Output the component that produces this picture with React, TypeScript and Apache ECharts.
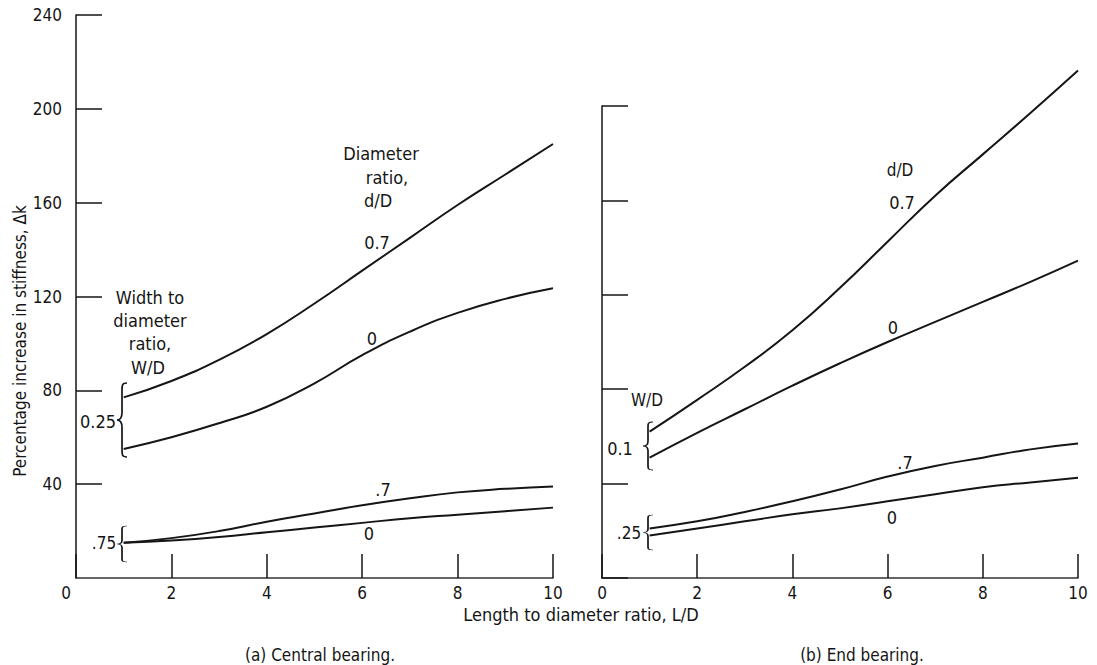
import React, { useEffect, useRef } from "react";
import * as echarts from "echarts";

// ---- data ----
const LD = [1, 2, 3, 4, 5, 6, 7, 8, 9, 10];

// (a) Central bearing
const centralWD025_d07 = [77, 84, 93, 104, 117, 131, 145, 159, 172, 185];
const centralWD025_d0 = [55, 60, 66, 73, 83, 95, 105, 113, 119, 123.5];
const centralWD075_d07 = [15, 17, 20, 24, 27.5, 31, 34, 36.5, 38, 39];
const centralWD075_d0 = [15, 16, 17.5, 19.5, 21.5, 23.5, 25.5, 27, 28.5, 30];

// (b) End bearing
const endWD01_d07 = [62, 75.5, 89.5, 105, 123, 142.5, 162, 179.5, 197, 215];
const endWD01_d0 = [51, 61.5, 71.5, 81.5, 91, 100, 108.5, 117, 125.5, 134.5];
const endWD025_d07 = [21, 24, 28, 32.5, 37.5, 43, 47.5, 51, 54.5, 57];
const endWD025_d0 = [18, 21, 24, 27, 29.5, 32.5, 35.5, 38.5, 40.5, 42.5];

const FONT = "'Liberation Sans Narrow', 'DejaVu Sans Condensed', 'Roboto Condensed', 'Liberation Sans', sans-serif";
const INK = "#151515";

const BRACE = "M10,0 C5,0 5,3 5,10 L5,40 C5,46 4,50 0,50 C4,50 5,54 5,60 L5,90 C5,97 5,100 10,100";
echarts.graphic.registerShape("brace", echarts.graphic.extendPath(BRACE, {}) as any);

function pairs(ys: number[]) {
  return LD.map((x, i) => [x, ys[i]]);
}

function txt(x: number, y: number, s: string, size = 17, align = "center") {
  return {
    type: "text",
    x,
    y,
    style: { text: s, fill: INK, font: `${size}px ${FONT}`, textAlign: align, textVerticalAlign: "middle" },
  };
}

function brace(x: number, y1: number, y2: number) {
  return {
    type: "brace",
    x,
    y: y1,
    scaleX: 1,
    scaleY: (y2 - y1) / 100,
    style: { stroke: INK, fill: "none", lineWidth: 1.7, strokeNoScale: true },
  } as any;
}

export default function App() {
  const ref = useRef<HTMLDivElement>(null);
  useEffect(() => {
    if (!ref.current) return;
    const chart = echarts.init(ref.current, null, { renderer: "svg" });
    const axisLine = { show: true, lineStyle: { color: INK, width: 1.5 } };
    const tick = (len: number) => ({ show: true, inside: true, length: len, lineStyle: { color: INK, width: 1.5 } });
    const label = { color: INK, fontFamily: FONT, fontSize: 17 };
    const line = (name: string, xi: number, ys: number[]) => ({
      name,
      type: "line",
      xAxisIndex: xi,
      yAxisIndex: xi,
      data: pairs(ys),
      smooth: 0.5,
      clip: false,
      showSymbol: false,
      lineStyle: { color: INK, width: 2 },
      silent: true,
    });
    chart.setOption({
      animation: false,
      backgroundColor: "#ffffff",
      grid: [
        { left: 76, top: 15, width: 477, height: 563 },
        { left: 602, top: 106, width: 476, height: 472 },
      ],
      xAxis: [0, 1].map((g) => ({
        type: "value",
        gridIndex: g,
        min: 0,
        max: 10,
        interval: 2,
        axisLine: { show: true, lineStyle: { color: "#333", width: 1.5 } },
        axisTick: tick(24),
        axisLabel: {
          ...label,
          margin: 6,
          formatter: (v: number) => (g === 0 && v === 0 ? "{z|0}" : String(v)),
          rich: { z: { color: INK, fontFamily: FONT, fontSize: 17, padding: [0, 20, 0, 0] } },
        },
        splitLine: { show: false },
      })),
      yAxis: [
        {
          type: "value",
          gridIndex: 0,
          min: 0,
          max: 240,
          interval: 40,
          axisLine,
          axisTick: tick(26),
          axisLabel: { ...label, margin: 14, showMinLabel: false },
          splitLine: { show: false },
        },
        {
          type: "value",
          gridIndex: 1,
          min: 0,
          max: 200,
          interval: 40,
          axisLine,
          axisTick: tick(26),
          axisLabel: { show: false },
          splitLine: { show: false },
        },
      ],
      series: [
        line("a 0.25 0.7", 0, centralWD025_d07),
        line("a 0.25 0", 0, centralWD025_d0),
        line("a 0.75 0.7", 0, centralWD075_d07),
        line("a 0.75 0", 0, centralWD075_d0),
        line("b 0.1 0.7", 1, endWD01_d07),
        line("b 0.1 0", 1, endWD01_d0),
        line("b 0.25 0.7", 1, endWD025_d07),
        line("b 0.25 0", 1, endWD025_d0),
      ],
      graphic: [
        {
          type: "text",
          x: 20,
          y: 341,
          rotation: Math.PI / 2,
          style: {
            text: "Percentage increase in stiffness, \u0394k",
            fill: INK,
            font: `17px ${FONT}`,
            textAlign: "center",
            textVerticalAlign: "middle",
          },
        },
        txt(581, 614, "Length to diameter ratio, L/D", 18),
        txt(320, 655, "(a) Central bearing.", 17),
        txt(862, 655, "(b) End bearing.", 17),
        // left annotations
        txt(381, 153, "Diameter", 18),
        txt(387, 177, "ratio,", 18),
        txt(378, 200, "d/D", 18),
        txt(377, 242, "0.7", 18),
        txt(372, 338, "0", 18),
        txt(150, 297, "Width to", 18),
        txt(150, 320, "diameter", 18),
        txt(150, 343, "ratio,", 18),
        txt(148, 367, "W/D", 18),
        txt(98, 421, "0.25", 18),
        txt(383, 489, ".7", 18),
        txt(369, 533, "0", 18),
        txt(104, 543, ".75", 17),
        brace(117, 383, 457),
        brace(117, 526, 562),
        // right annotations
        txt(900, 170, "d/D", 17),
        txt(902, 202, "0.7", 18),
        txt(893, 327, "0", 18),
        txt(647, 400, "W/D", 17),
        txt(620, 448, "0.1", 18),
        txt(905, 462, ".7", 18),
        txt(892, 517, "0", 18),
        txt(629, 533, ".25", 17),
        brace(643, 422, 470),
        brace(643, 515, 550),
      ],
    });
    return () => chart.dispose();
  }, []);
  return (
    <div
      ref={ref}
      style={{ position: "absolute", left: 0, top: 0, width: 1097, height: 665, background: "#fff" }}
    />
  );
}
